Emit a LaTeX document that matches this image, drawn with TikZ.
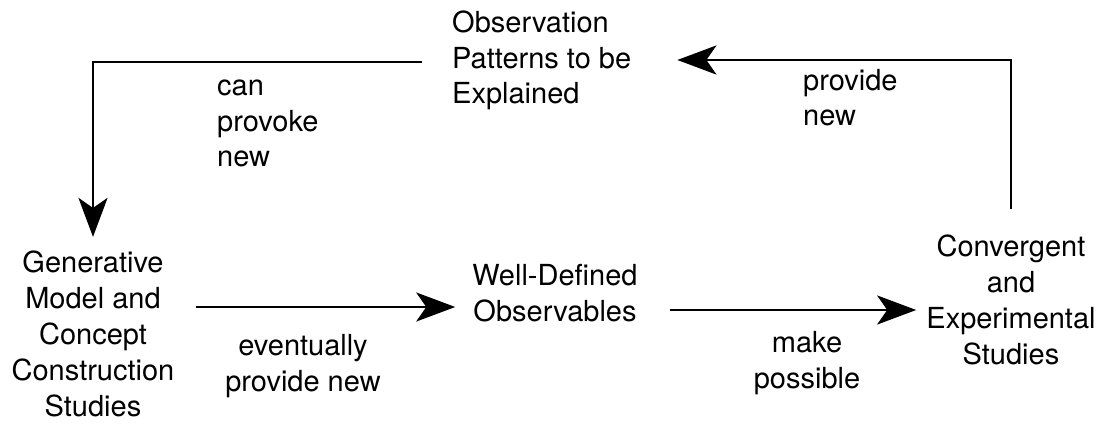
\documentclass[tikz,border=0pt]{standalone}
\usepackage{fontspec}
\setmainfont{TeX Gyre Heros}
\usetikzlibrary{arrows.meta}
\begin{document}
\begin{tikzpicture}[x=1pt,y=-1pt,
  txt/.style={font=\fontsize{29}{35.8}\selectfont, inner sep=0pt, anchor=base},
  ltxt/.style={txt, align=left, anchor=base west},
  arr/.style={line width=2.8pt, -{Stealth[length=39pt,width=29pt,inset=10pt]}}]
\useasboundingbox (0,0) rectangle (1107,438);
% main nodes (anchor = baseline of last line)
\node[ltxt] (obs) at (452,104) {Observation\\Patterns to be\\Explained};
\node[txt, align=center] (gen) at (93,416) {Generative\\Model and\\Concept\\Construction\\Studies};
\node[txt, align=center] (wd) at (555,321) {Well-Defined\\Observables};
\node[txt, align=center] (conv) at (1011,364) {Convergent\\and\\Experimental\\Studies};
% labels
\node[ltxt] (l1) at (217,167) {can\\provoke\\new};
\node[ltxt] (l2) at (803,126) {provide\\new};
\node[txt, align=center] (l3) at (303,391) {eventually\\provide new};
\node[txt, align=center] (l4) at (807,388) {make\\possible};
% row coordinates
\coordinate (tl) at (0,62);
\coordinate (tr) at (0,60);
\coordinate (r1) at (0,307);
\coordinate (r2) at (0,310);
% connectors
\draw[arr] ([xshift=-30pt]obs.west |- tl) -| ([yshift=14pt]gen.north);
\draw[arr] ([yshift=26pt]conv.north) |- ([xshift=46pt]obs.east |- tr);
\draw[arr] ([xshift=21pt]gen.east |- r1) -- ([xshift=-17pt]wd.west |- r1);
\draw[arr] ([xshift=32pt]wd.east |- r2) -- ([xshift=-10pt]conv.west |- r2);
\end{tikzpicture}
\end{document}
